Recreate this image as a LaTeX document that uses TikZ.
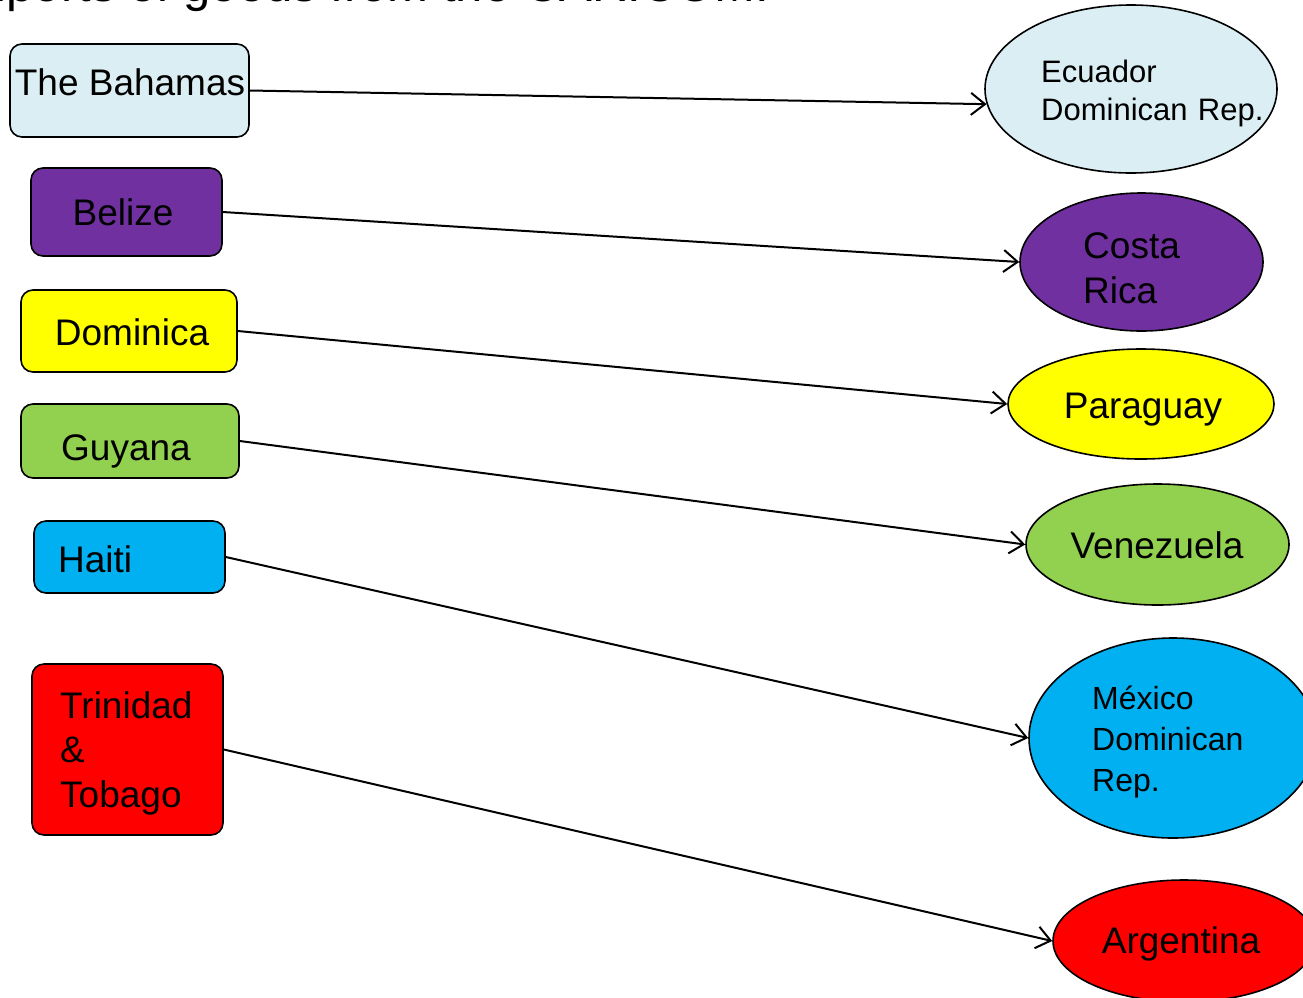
\documentclass[tikz,border=0pt]{standalone}
\usepackage{fontspec}
\setmainfont{Liberation Sans}
\usetikzlibrary{arrows.meta,shapes.geometric}
\definecolor{cBah}{HTML}{DAEEF3}
\definecolor{cPur}{HTML}{7030A0}
\definecolor{cYel}{HTML}{FFFF00}
\definecolor{cGrn}{HTML}{92D050}
\definecolor{cBlu}{HTML}{00B0F0}
\definecolor{cRed}{HTML}{FF0000}
\tikzset{
  box/.style={draw=black, line width=1.6pt, rounded corners=12pt, inner sep=0pt},
  oval/.style={ellipse, draw=black, line width=1.6pt, inner sep=0pt},
  lbl/.style={inner sep=0pt, font=\fontsize{37}{44.5}\selectfont},
  lbls/.style={inner sep=0pt, font=\fontsize{31}{38}\selectfont},
  conn/.style={line width=2pt, -{Straight Barb[length=14pt,width=22pt]}}
}
\begin{document}
\begin{tikzpicture}[x=1pt,y=-1pt]
\useasboundingbox (0,0) rectangle (1303,997);
\clip (0,0) rectangle (1303,997);
% title (cut at top)
\node[inner sep=0pt, anchor=base west, font=\fontsize{49}{58}\selectfont] (title) at (-48,1) {Imports of goods from the CARICOM.};
% left boxes
\node[box, fill=cBah, minimum width=239pt, minimum height=93pt] (bah) at (129.5,90.5) {};
\node[lbl, anchor=base] (bahT) at (130,95) {The Bahamas};
\node[box, fill=cPur, minimum width=191pt, minimum height=88pt] (bel) at (126.5,212) {};
\node[lbl, anchor=base] (belT) at (123,225) {Belize};
\node[box, fill=cYel, minimum width=216pt, minimum height=82pt] (dom) at (129,331) {};
\node[lbl, anchor=base] (domT) at (132,345) {Dominica};
\node[box, fill=cGrn, minimum width=218pt, minimum height=74pt] (guy) at (130,441) {};
\node[lbl, anchor=base] (guyT) at (126,460) {Guyana};
\node[box, fill=cBlu, minimum width=191pt, minimum height=72pt] (hai) at (129.5,557) {};
\node[lbl, anchor=base west] (haiT) at (58,572) {Haiti};
\node[box, fill=cRed, minimum width=191pt, minimum height=171pt] (tri) at (127.5,749.5) {};
\node[lbl, anchor=base west, text width=160pt, align=left] (triT) at (60,718) {Trinidad\\\&\\Tobago};
% right ellipses
\node[oval, fill=cBah, minimum width=292pt, minimum height=168pt] (ecu) at (1131,89) {};
\node[lbls, anchor=base west, text width=240pt, align=left] (ecuT) at (1041,82) {Ecuador\\Dominican Rep.};
\node[oval, fill=cPur, minimum width=243pt, minimum height=138pt] (cr) at (1141.5,262) {};
\node[lbl, anchor=base west, text width=150pt, align=left, font=\fontsize{37}{45}\selectfont] (crT) at (1083,258) {Costa\\Rica};
\node[oval, fill=cYel, minimum width=266pt, minimum height=110pt] (par) at (1141,404) {};
\node[lbl, anchor=base] (parT) at (1143,418) {Paraguay};
\node[oval, fill=cGrn, minimum width=263pt, minimum height=121pt] (ven) at (1157.5,544.5) {};
\node[lbl, anchor=base] (venT) at (1157,558) {Venezuela};
\node[oval, fill=cBlu, minimum width=288pt, minimum height=200pt] (mex) at (1173,738) {};
\node[lbls, anchor=base west, text width=200pt, align=left, font=\fontsize{32}{41}\selectfont] (mexT) at (1092,709) {México\\Dominican\\Rep.};
\node[oval, fill=cRed, minimum width=262pt, minimum height=122pt] (arg) at (1184,941) {};
\node[lbl, anchor=base] (argT) at (1181,953) {Argentina};
% connectors
\draw[conn] (bah.east) -- (ecu.186);
\draw[conn] (bel.east) -- (cr.west);
\draw[conn] (dom.east) -- (par.west);
\draw[conn] (guy.east) -- (ven.west);
\draw[conn] (hai.east) -- (mex.west);
\draw[conn] (tri.east) -- (arg.west);
\end{tikzpicture}
\end{document}
